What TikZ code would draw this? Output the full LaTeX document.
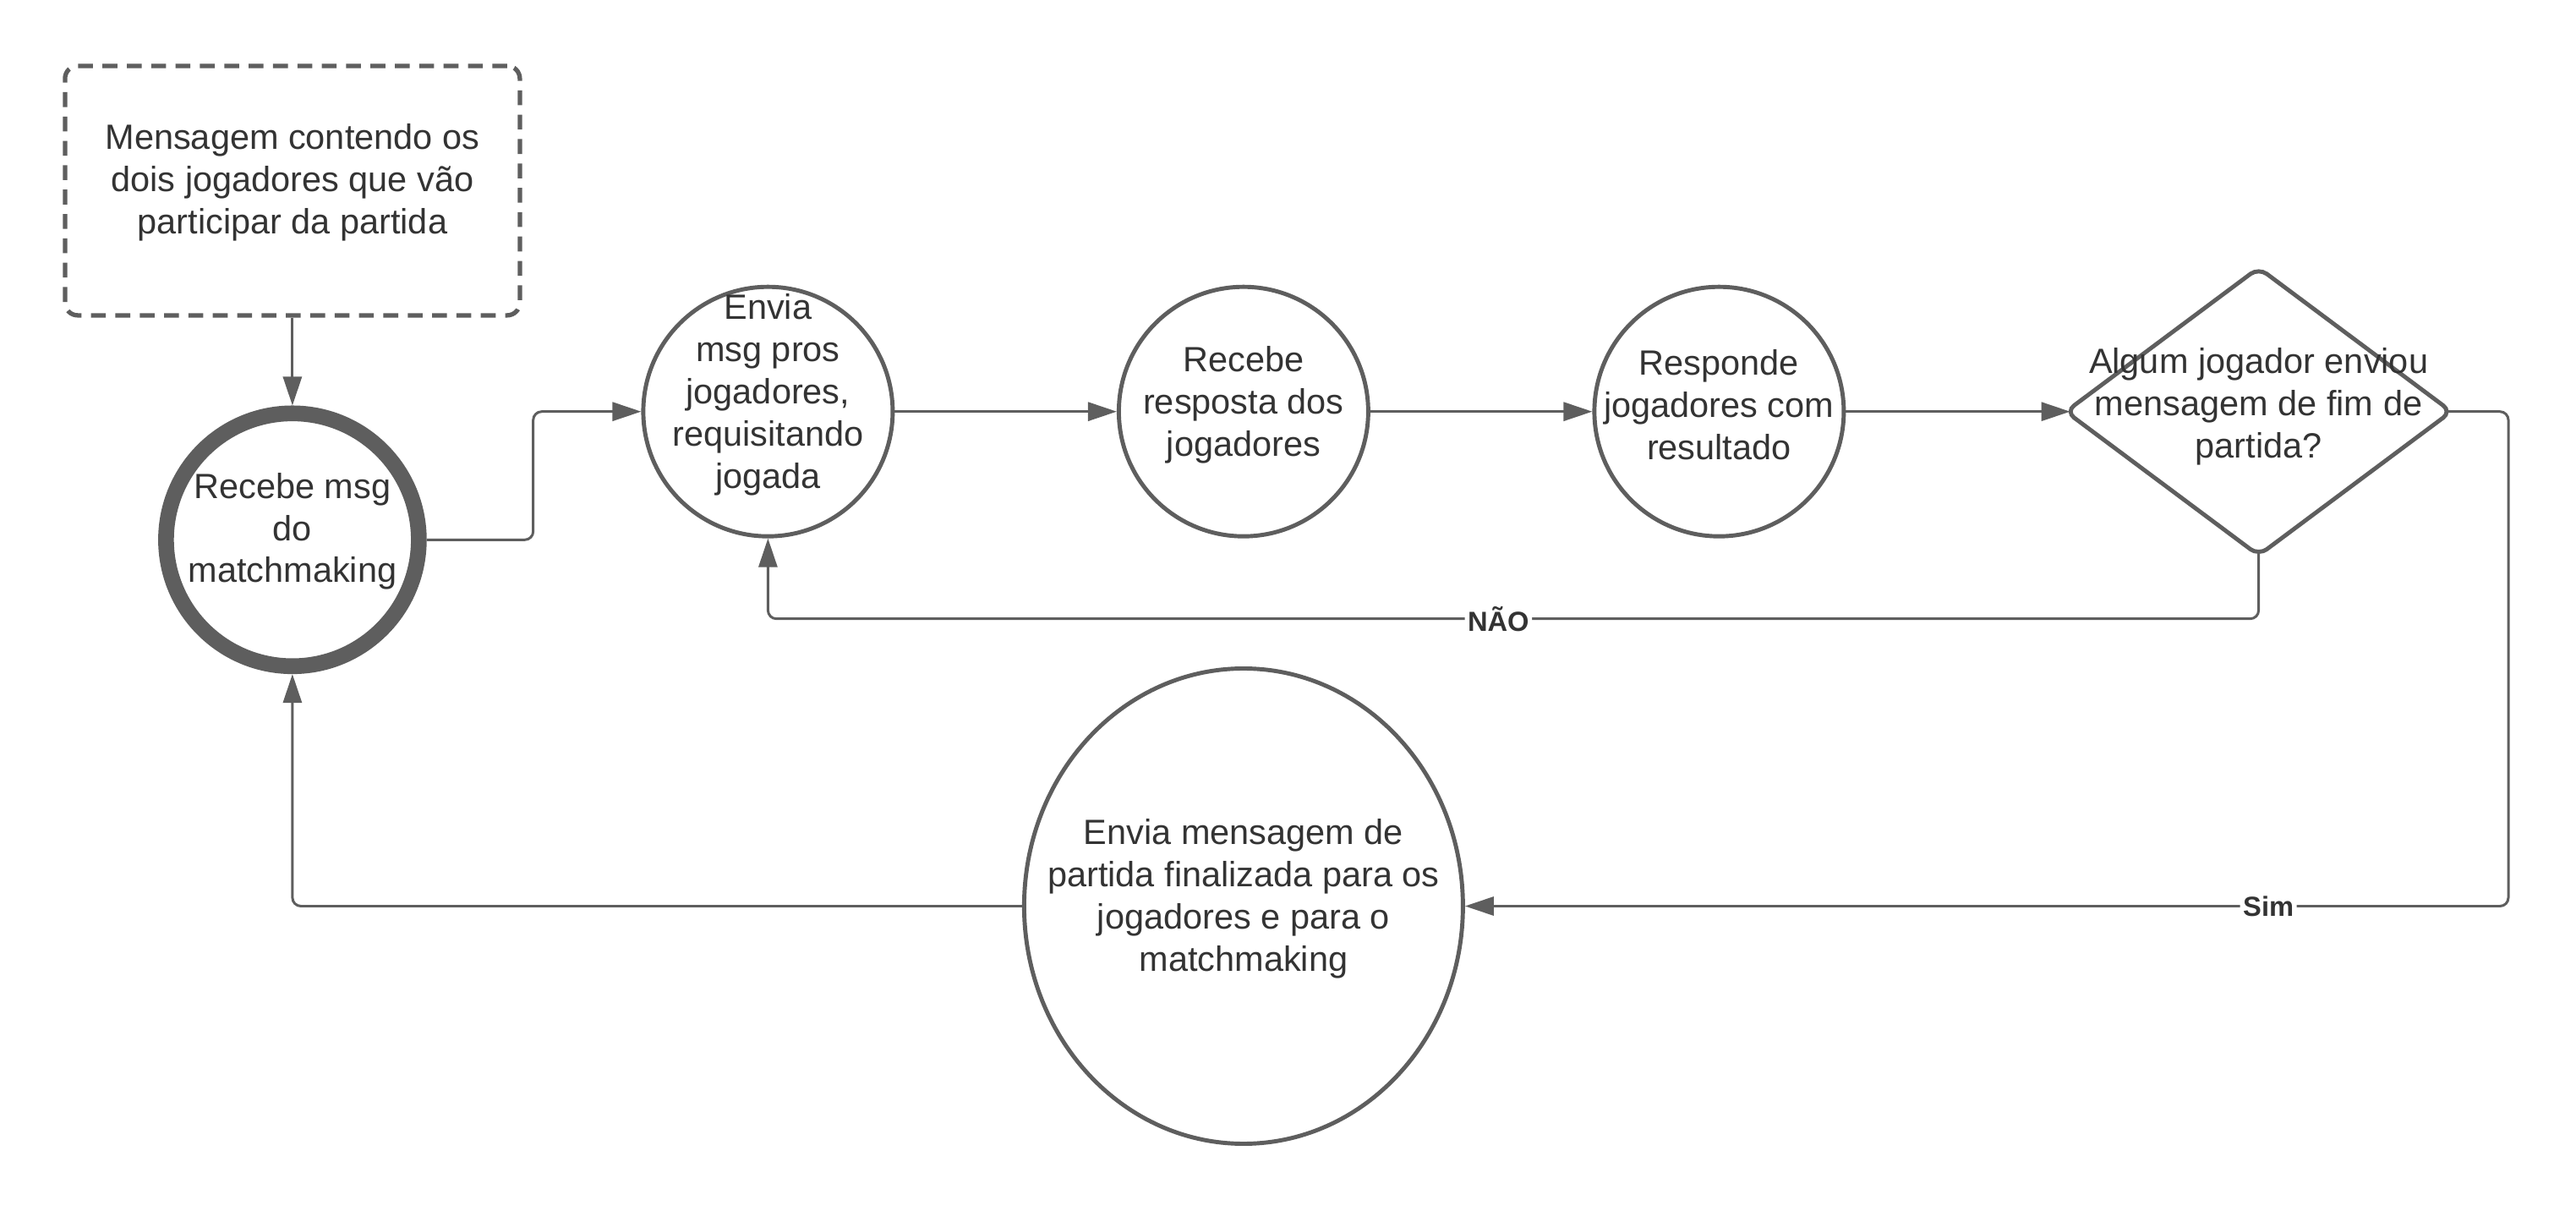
\documentclass[tikz,border=0pt]{standalone}
\usepackage{fontspec}
\setmainfont{Liberation Sans}
\usetikzlibrary{shapes.geometric,arrows.meta}
\definecolor{linegray}{HTML}{5E5E5E}
\definecolor{textgray}{HTML}{333333}
\begin{document}
\begin{tikzpicture}[
  state/.style={circle, draw=linegray, line width=1.4pt, minimum size=2.95cm, inner sep=0pt},
  txt/.style={text=textgray, align=center, font=\fontsize{11.8}{14.2}\selectfont, inner sep=0pt},
  link/.style={draw=linegray, line width=0.85pt, rounded corners=0.1cm, -{Triangle[length=0.34cm, width=0.22cm]}},
  lbl/.style={fill=white, text=textgray, font=\fontsize{9.3}{11}\selectfont\bfseries, inner sep=1pt}]
\useasboundingbox (0,0) rectangle (30.47,14.31);
\node[draw=linegray, line width=1.5pt, dash pattern=on 5pt off 3.2pt, rounded corners=0.15cm, minimum width=5.38cm, minimum height=2.95cm] (msgbox) at (3.459,12.056) {};
\node[state, line width=5.3pt, minimum size=2.99cm] (recebe) at (3.459,7.927) {};
\node[state] (envia) at (9.084,9.443) {};
\node[state] (resposta) at (14.709,9.443) {};
\node[state] (responde) at (20.334,9.443) {};
\node[diamond, draw=linegray, line width=1.4pt, rounded corners=0.12cm, minimum width=4.56cm, minimum height=3.4cm, inner sep=0pt, outer sep=0pt] (fim) at (26.716,9.443) {};
\node[ellipse, draw=linegray, line width=1.4pt, minimum width=5.19cm, minimum height=5.62cm, inner sep=0pt] (final) at (14.709,3.595) {};
\node[txt] (msgbox-t) at ([yshift=1mm]msgbox.center) {Mensagem contendo os\\dois jogadores que vão\\participar da partida};
\node[txt] (recebe-t) at ([yshift=1mm]recebe.center) {Recebe msg\\do\\matchmaking};
\node[txt] (envia-t) at ([yshift=2mm]envia.center) {Envia\\msg pros\\jogadores,\\requisitando\\jogada};
\node[txt] (resposta-t) at ([yshift=0.8mm]resposta.center) {Recebe\\resposta dos\\jogadores};
\node[txt] (responde-t) at ([yshift=0.8mm]responde.center) {Responde\\jogadores com\\resultado};
\node[txt] (fim-t) at ([yshift=0.6mm]fim.center) {Algum jogador enviou\\mensagem de fim de\\partida?};
\node[txt] (final-t) at ([yshift=0.9mm]final.center) {Envia mensagem de\\partida finalizada para os\\jogadores e para o\\matchmaking};
\coordinate (simcanto) at (29.67,3.595);
\draw[link] (msgbox.south) -- (recebe.north);
\draw[link] (recebe.east) -- ++(1.26,0) |- (envia.west);
\draw[link] (envia.east) -- (resposta.west);
\draw[link] (resposta.east) -- (responde.west);
\draw[link] (responde.east) -- ([xshift=0.05cm]fim.west);
\draw[link] ([yshift=0.04cm]fim.south) -- ++(0,-0.79) -| node[lbl, pos=0.255]{NÃO} (envia.south);
\draw[link] ([xshift=-0.06cm]fim.east) -| (simcanto) -- node[lbl, pos=0.23]{Sim} (final.east);
\draw[link] (final.west) -| (recebe.south);
\end{tikzpicture}
\end{document}
